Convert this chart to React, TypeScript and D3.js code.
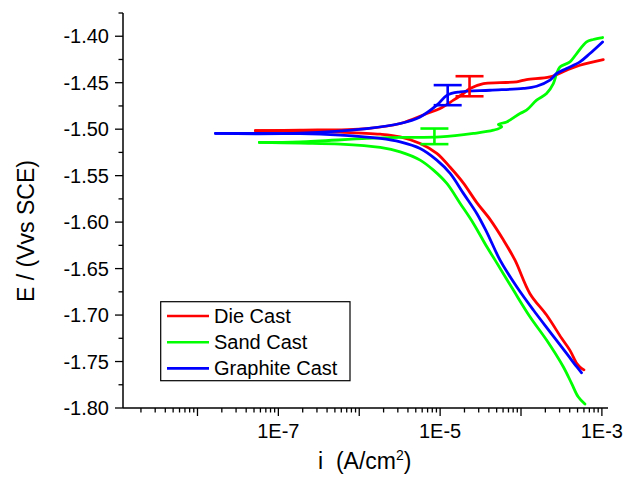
import React from "react";
import * as d3 from "d3";

// ---- data (current density in A/cm², potential in V vs SCE) ----
const seriesNames = ["Die Cast", "Sand Cast", "Graphite Cast"];
const seriesColors = ["#ff0000", "#00ff00", "#0000ff"];

// Die Cast
const dieCathI = [6.0e-4, 5.35e-4, 4.88e-4, 4.03e-4, 3.18e-4, 2.07e-4, 1.29e-4, 8.43e-5, 6.04e-5, 4.14e-5, 2.84e-5, 1.94e-5, 1.33e-5, 9.1e-6, 5.66e-6, 3.21e-6, 1.82e-6, 5.8e-7, 1.87e-7, 5.2e-8];
const dieCathE = [-1.759, -1.756, -1.752, -1.738, -1.725, -1.700, -1.677, -1.641, -1.619, -1.597, -1.579, -1.558, -1.541, -1.526, -1.5154, -1.5083, -1.5054, -1.5032, -1.5022, -1.5016];
const dieAnodI = [5.2e-8, 1.87e-7, 1.24e-6, 3.21e-6, 6.86e-6, 1.0e-5, 1.46e-5, 1.94e-5, 2.34e-5, 3.43e-5, 5.5e-5, 8.85e-5, 1.17e-4, 2.28e-4, 3.66e-4, 5.35e-4, 1.04e-3];
const dieAnodE = [-1.5016, -1.5011, -1.4993, -1.4939, -1.4831, -1.4777, -1.4688, -1.4616, -1.4562, -1.4509, -1.4500, -1.4491, -1.4466, -1.4438, -1.4366, -1.4312, -1.4251];

// Sand Cast
const sandCathI = [6.17e-4, 5.09e-4, 4.22e-4, 3.33e-4, 2.07e-4, 1.29e-4, 8.04e-5, 4.78e-5, 3.78e-5, 2.58e-5, 1.77e-5, 1.21e-5, 8.27e-6, 5.66e-6, 3.21e-6, 1.82e-6, 5.8e-7, 1.87e-7, 5.82e-8];
const sandCathE = [-1.7957, -1.7879, -1.7735, -1.7556, -1.7269, -1.7018, -1.6731, -1.6409, -1.6266, -1.6014, -1.5799, -1.5584, -1.5441, -1.5333, -1.5244, -1.5197, -1.5161, -1.5151, -1.5143];
const sandAnodI = [5.82e-8, 1.87e-7, 1.24e-6, 3.21e-6, 1.0e-5, 2.58e-5, 4.55e-5, 5.78e-5, 5.25e-5, 6.65e-5, 9.73e-5, 1.17e-4, 1.56e-4, 2.07e-4, 2.51e-4, 2.76e-4, 3.03e-4, 4.03e-4, 4.88e-4, 6.47e-4, 7.82e-4, 1.02e-3];
const sandAnodE = [-1.5143, -1.5137, -1.5100, -1.5089, -1.5083, -1.5046, -1.5011, -1.4975, -1.4949, -1.4922, -1.4831, -1.4796, -1.4688, -1.4616, -1.4509, -1.4401, -1.4330, -1.4276, -1.4186, -1.4061, -1.4035, -1.4014];

// Graphite Cast
const graCathI = [5.61e-4, 4.88e-4, 3.66e-4, 2.28e-4, 1.42e-4, 8.85e-5, 5.51e-5, 3.78e-5, 2.84e-5, 1.94e-5, 1.33e-5, 9.1e-6, 5.66e-6, 3.21e-6, 1.82e-6, 5.8e-7, 1.87e-7, 1.67e-8];
const graCathE = [-1.7621, -1.7556, -1.7412, -1.7180, -1.6946, -1.6696, -1.6409, -1.6110, -1.5907, -1.5691, -1.5476, -1.5333, -1.5208, -1.5137, -1.5100, -1.5065, -1.5048, -1.5046];
const graAnodI = [1.67e-8, 1.87e-7, 1.24e-6, 3.21e-6, 5.66e-6, 9.1e-6, 1.22e-5, 1.77e-5, 4.14e-5, 1.07e-4, 1.56e-4, 2.28e-4, 2.76e-4, 3.66e-4, 5.35e-4, 7.11e-4, 1.02e-3];
const graAnodE = [-1.5046, -1.5043, -1.4993, -1.4939, -1.4868, -1.4742, -1.4634, -1.4599, -1.4581, -1.4562, -1.4538, -1.4473, -1.4401, -1.4347, -1.4276, -1.4186, -1.4061];

// error bars (one per series, same order as seriesNames)
const errI = [2.31e-5, 8.5e-6, 1.24e-5];
const errE = [-1.4538, -1.5077, -1.4634];
const errD = [0.0108, 0.0084, 0.0108];

// axis ticks
const xDomain = [1.2e-9, 1.19e-3];
const yDomain = [-1.80, -1.375];
const xLabelValues = [1e-7, 1e-5, 1e-3];
const xLabelTexts = ["1E-7", "1E-5", "1E-3"];
const yMajorTicks = [-1.40, -1.45, -1.50, -1.55, -1.60, -1.65, -1.70, -1.75, -1.80];
const yMinorTicks = [-1.375, -1.425, -1.475, -1.525, -1.575, -1.625, -1.675, -1.725, -1.775];

const W = 627, H = 483;
const left = 123, right = 608, top = 13, bottom = 408;
const FONT = "'Liberation Sans', Arial, Helvetica, sans-serif";

export default function App() {
  const x = d3.scaleLog().domain(xDomain).range([left, right]);
  const y = d3.scaleLinear().domain(yDomain).range([bottom, top]);
  const line = d3.line<[number, number]>()
    .x(d => x(d[0]))
    .y(d => y(d[1]))
    .curve(d3.curveCatmullRom.alpha(0.5));

  const branches = [
    [dieCathI, dieCathE, 0], [dieAnodI, dieAnodE, 0],
    [sandCathI, sandCathE, 1], [sandAnodI, sandAnodE, 1],
    [graCathI, graCathE, 2], [graAnodI, graAnodE, 2],
  ] as [number[], number[], number][];

  const xTicks = x.ticks().filter(v => v >= xDomain[0] && v <= xDomain[1]);
  const isMajor = (v: number) => Math.abs(Math.log10(v) - Math.round(Math.log10(v))) < 1e-6;

  return (
    <svg width={W} height={H} style={{ position: "absolute", left: 0, top: 0, background: "#fff" }} fontFamily={FONT}>
      <rect x={0} y={0} width={W} height={H} fill="#fff" />
      {/* curves */}
      {branches.map(([I, E, s], k) => {
        const pts = I.map((v, j) => [v, E[j]] as [number, number]);
        return <path key={k} d={line(pts) || ""} fill="none" stroke={seriesColors[s]} strokeWidth={2.8} strokeLinejoin="round" strokeLinecap="round" />;
      })}
      {/* error bars */}
      {errI.map((v, s) => {
        const cx = x(v);
        const y1 = y(errE[s] + errD[s]);
        const y2 = y(errE[s] - errD[s]);
        return (
          <g key={s} stroke={seriesColors[s]} strokeWidth={2.6}>
            <line x1={cx} x2={cx} y1={y1} y2={y2} />
            <line x1={cx - 14} x2={cx + 14} y1={y1} y2={y1} />
            <line x1={cx - 14} x2={cx + 14} y1={y2} y2={y2} />
          </g>
        );
      })}
      {/* axes */}
      <line x1={left} x2={left} y1={top} y2={bottom} stroke="#000" strokeWidth={1.5} />
      <line x1={left} x2={right} y1={bottom} y2={bottom} stroke="#000" strokeWidth={1.5} />
      {xTicks.map((v, i) => (
        <line key={i} x1={x(v)} x2={x(v)} y1={bottom} y2={bottom + (isMajor(v) ? 8 : 4.5)} stroke="#000" strokeWidth={1.3} />
      ))}
      {xLabelValues.map((v, i) => (
        <text key={i} x={x(v)} y={438} textAnchor="middle" fontSize={20} fill="#000">{xLabelTexts[i]}</text>
      ))}
      {yMajorTicks.map((v, i) => (
        <g key={i}>
          <line x1={left - 8} x2={left} y1={y(v)} y2={y(v)} stroke="#000" strokeWidth={1.3} />
          <text x={109} y={y(v) + 7} textAnchor="end" fontSize={20} fill="#000">{v.toFixed(2)}</text>
        </g>
      ))}
      {yMinorTicks.map((v, i) => (
        <line key={i} x1={left - 4.5} x2={left} y1={y(v)} y2={y(v)} stroke="#000" strokeWidth={1.3} />
      ))}
      {/* axis titles */}
      <text transform="translate(33.5,231) rotate(-90)" textAnchor="middle" fontSize={23} fill="#000">E / (Vvs SCE)</text>
      <text x={318} y={469} fontSize={23} fill="#000" xmlSpace="preserve">
        {"i  (A/cm"}<tspan fontSize={14} dy={-9}>2</tspan><tspan dy={9}>)</tspan>
      </text>
      {/* legend */}
      <rect x={160.7} y={301.7} width={189.3} height={79} fill="#fff" stroke="#000" strokeWidth={1.2} />
      {seriesNames.map((n, i) => (
        <g key={i}>
          <line x1={167} x2={209} y1={316 + i * 26.2} y2={316 + i * 26.2} stroke={seriesColors[i]} strokeWidth={2.6} />
          <text x={214} y={323 + i * 26.2} fontSize={20} fill="#000">{n}</text>
        </g>
      ))}
    </svg>
  );
}
